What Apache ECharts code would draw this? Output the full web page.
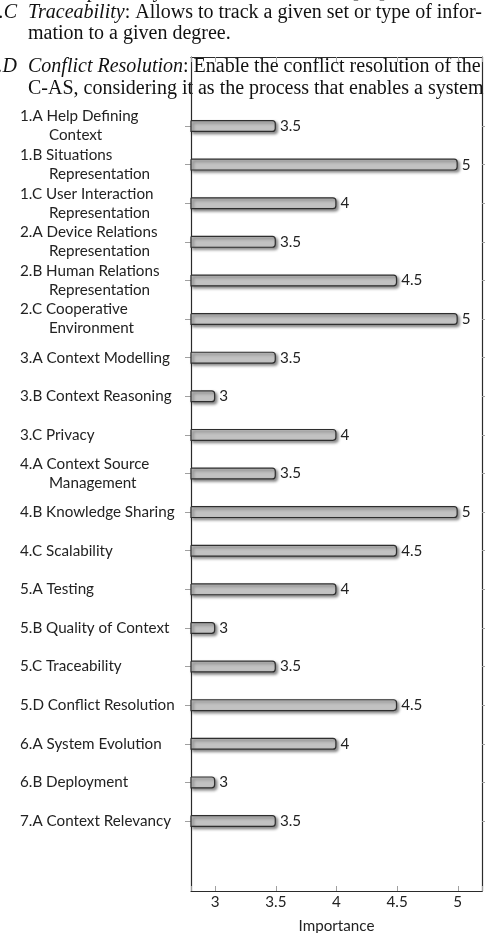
<!DOCTYPE html>
<html>
<head>
<meta charset="utf-8">
<script src="https://cdn.jsdelivr.net/npm/echarts@6/dist/echarts.min.js"></script>
<style>
  html, body { margin: 0; padding: 0; background: #ffffff; }
  #chart { width: 485px; height: 933px; }
</style>
</head>
<body>
<div id="chart"></div>
<script>
// 需求类别（换行处为悬挂缩进）
var categories = [
    '1.A Help Defining\nContext',
    '1.B Situations\nRepresentation',
    '1.C User Interaction\nRepresentation',
    '2.A Device Relations\nRepresentation',
    '2.B Human Relations\nRepresentation',
    '2.C Cooperative\nEnvironment',
    '3.A Context Modelling',
    '3.B Context Reasoning',
    '3.C Privacy',
    '4.A Context Source\nManagement',
    '4.B Knowledge Sharing',
    '4.C Scalability',
    '5.A Testing',
    '5.B Quality of Context',
    '5.C Traceability',
    '5.D Conflict Resolution',
    '6.A System Evolution',
    '6.B Deployment',
    '7.A Context Relevancy'
];
var importance = [3.5, 5, 4, 3.5, 4.5, 5, 3.5, 3, 4, 3.5, 5, 4.5, 4, 3, 3.5, 4.5, 4, 3, 3.5];
var xTicks = [3, 3.5, 4, 4.5, 5];
var xMin = 2.8;
var xMax = 5.2;

var labelFont = 'Lato';
var labelSize = 15.2;
var paperFont = 'Liberation Serif';
var paperSize = 20;

var chart = echarts.init(document.getElementById('chart'));

function catLabel(v) {
    var parts = v.split('\n');
    if (parts.length < 2) return parts[0];
    return parts[0] + '\n{ind|}' + parts[1];
}

function tickLabel(v) {
    for (var i = 0; i < xTicks.length; i++) {
        if (Math.abs(xTicks[i] - v) < 1e-6) return String(xTicks[i]);
    }
    return '';
}

var frameLine = { show: true, onZero: false, lineStyle: { color: '#2b2b2b', width: 1.2 } };
var grayTick = { color: '#a0a0a0', width: 1 };

function paperText(left, top, text) {
    return {
        type: 'text', left: left, top: top,
        style: {
            text: text,
            font: paperSize + 'px "' + paperFont + '"', fill: '#111',
            rich: { it: { fontStyle: 'italic', fontSize: paperSize, fontFamily: paperFont, fill: '#111' } }
        }
    };
}

function paperTag(right, top, text) {
    return {
        type: 'text', right: right, top: top,
        style: { text: text, font: 'italic ' + paperSize + 'px "' + paperFont + '"', fill: '#111' }
    };
}

var option = {
    backgroundColor: '#ffffff',
    animation: false,
    grid: [
        // 外框
        { left: 191, right: 3, top: 57, bottom: 42, outerBoundsMode: 'none', containLabel: false },
        // 条形区域
        { left: 191, right: 3, top: 106.7, bottom: 92.7, outerBoundsMode: 'none', containLabel: false }
    ],
    xAxis: [
        {
            gridIndex: 0, type: 'value', position: 'bottom',
            min: xMin, max: xMax,
            axisLine: frameLine,
            axisTick: { show: true, inside: true, length: 5, lineStyle: grayTick },
            splitLine: { show: false },
            axisLabel: {
                formatter: tickLabel, margin: 4,
                color: '#222', fontSize: labelSize, fontFamily: labelFont
            },
            name: 'Importance', nameLocation: 'middle', nameGap: 28,
            nameTextStyle: { color: '#222', fontSize: labelSize, fontFamily: labelFont }
        },
        {
            gridIndex: 0, type: 'value', position: 'top',
            min: xMin, max: xMax,
            axisLine: frameLine,
            axisTick: { show: true, inside: true, length: 5, lineStyle: grayTick },
            splitLine: { show: false },
            axisLabel: { show: false }
        },
        {
            gridIndex: 1, type: 'value', min: xMin, max: xMax, show: false
        }
    ],
    yAxis: [
        {
            gridIndex: 0, type: 'value', position: 'left', min: 0, max: 1,
            axisLine: frameLine,
            axisTick: { show: false }, axisLabel: { show: false }, splitLine: { show: false }
        },
        {
            gridIndex: 0, type: 'value', position: 'right', min: 0, max: 1,
            axisLine: frameLine,
            axisTick: { show: false }, axisLabel: { show: false }, splitLine: { show: false }
        },
        {
            gridIndex: 1, type: 'category', position: 'left', inverse: true,
            data: categories,
            axisLine: { show: false },
            axisTick: { show: true, alignWithLabel: true, length: 6, lineStyle: grayTick },
            axisLabel: {
                align: 'left', margin: 171, interval: 0,
                color: '#222', fontSize: labelSize, fontFamily: labelFont, lineHeight: 19,
                formatter: catLabel,
                rich: {
                    ind: { width: 29, fontSize: labelSize, fontFamily: labelFont, lineHeight: 19 }
                }
            }
        },
        {
            gridIndex: 1, type: 'category', position: 'right', inverse: true,
            data: categories,
            axisLine: { show: false },
            axisTick: { show: true, alignWithLabel: true, length: 4, lineStyle: grayTick },
            axisLabel: { show: false }
        }
    ],
    graphic: [
        paperText(28, -18, 'contemporaneity of context information [37].'),
        paperTag(468, 3, '5.C'),
        paperText(28, 3, '{it|Traceability}: Allows to track a given set or type of infor-'),
        paperText(28, 24, 'mation to a given degree.'),
        paperTag(468, 57, '5.D'),
        paperText(28, 57, '{it|Conflict Resolution}: Enable the conflict resolution of the'),
        paperText(28, 79, 'C-AS, considering it as the process that enables a system')
    ],
    series: [{
        type: 'bar',
        xAxisIndex: 2,
        yAxisIndex: 2,
        data: importance,
        barWidth: 12,
        itemStyle: {
            color: '#c2c2c2',
            borderColor: '#2e2e2e',
            borderWidth: 1.2,
            borderRadius: [0, 3, 3, 0],
            shadowColor: 'rgba(0, 0, 0, 0.45)',
            shadowBlur: 3,
            shadowOffsetX: 2,
            shadowOffsetY: 2
        },
        label: {
            show: true, position: 'right', distance: 4,
            color: '#222', fontSize: labelSize, fontFamily: labelFont
        }
    }]
};

chart.setOption(option);
</script>
</body>
</html>
